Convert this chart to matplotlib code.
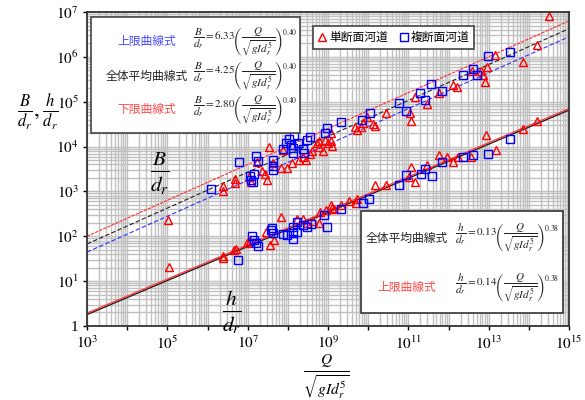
import numpy as np
import matplotlib.pyplot as plt
from matplotlib.lines import Line2D
from matplotlib.patches import Rectangle
from matplotlib.ticker import LogLocator, NullFormatter

plt.rcParams['font.family'] = ['Liberation Serif', 'DejaVu Serif']
plt.rcParams['mathtext.fontset'] = 'stix'
JP = ['Noto Sans CJK JP', 'DejaVu Sans']

# values, stored as log10
# B/dr group, single-section channels (red triangles)
red_b_logq = [5.02, 6.39, 6.39, 6.68, 6.68, 7.03, 7.08, 7.36, 7.48, 7.23, 7.43, 7.63, 7.53,
              7.88, 7.83, 7.98, 8.10, 8.28, 8.38, 8.45, 8.55, 8.60, 8.73, 8.78, 8.78, 8.88,
              8.92, 9.00, 9.07, 9.10, 9.07, 9.67, 9.72, 9.82, 9.97, 9.87, 10.12, 10.17, 10.44,
              11.04, 11.07, 11.17, 11.46, 11.76, 12.11, 12.21, 12.58, 12.81, 12.86, 12.96,
              12.91, 13.16, 13.85, 14.20, 14.50]
red_b_logv = [2.36, 3.12, 3.01, 3.28, 3.19, 3.32, 3.21, 3.46, 3.25, 3.66, 3.39, 3.63, 3.99,
              3.92, 3.52, 3.52, 3.63, 3.70, 3.77, 3.70, 3.83, 3.90, 4.08, 3.99, 4.12, 3.90,
              4.15, 4.08, 4.12, 4.01, 4.30, 4.44, 4.37, 4.44, 4.66, 4.53, 4.50, 4.46, 4.75,
              4.75, 4.57, 5.10, 4.95, 5.19, 5.37, 5.33, 5.68, 5.68, 5.60, 5.77,
              5.44, 6.04, 5.89, 6.26, 6.91]
# B/dr group, compound channels (blue squares)
blue_b_logq = [6.09, 6.78, 7.06, 7.08, 7.16, 7.13, 7.21, 7.26, 7.63, 7.63, 7.63, 7.88, 7.95,
               8.03, 8.08, 8.13, 8.13, 8.15, 8.25, 8.38, 8.40, 8.48, 8.55, 8.92, 8.97, 9.32,
               9.85, 10.04, 10.77, 10.94, 11.29, 11.41, 11.56, 11.84, 12.36, 12.61, 12.71,
               12.98, 13.53]
blue_b_logv = [3.05, 3.66, 3.34, 3.25, 3.39, 3.21, 3.79, 3.68, 3.70, 3.57, 3.48, 3.95, 4.08,
               4.17, 4.03, 3.97, 3.86, 4.24, 4.08, 3.95, 3.86, 4.15, 4.21, 4.30, 4.41, 4.55,
               4.59, 4.75, 4.97, 4.79, 5.19, 5.04, 5.39, 5.24, 5.60, 5.73, 5.60,
               6.02, 6.11]
# h/dr group, single-section channels
red_h_logq = [5.04, 6.39, 6.39, 6.66, 6.71, 6.98, 7.06, 7.46, 7.56, 7.66, 7.83, 8.23, 8.38,
              8.48, 8.63, 8.78, 8.80, 8.95, 9.07, 9.10, 9.15, 9.32, 9.52, 9.70, 9.72, 10.17,
              10.44, 11.02, 11.07, 11.17, 11.46, 11.76, 11.96, 12.11, 12.24, 12.56, 12.93,
              13.18, 13.85, 14.20]
red_h_logv = [1.32, 1.56, 1.52, 1.69, 1.72, 1.85, 1.89, 2.10, 1.81, 1.92, 2.43, 2.39, 2.39,
              2.30, 2.34, 2.30, 2.54, 2.59, 2.70, 2.63, 2.61, 2.70, 2.79, 2.74, 2.83, 3.14,
              3.14, 3.32, 3.54, 3.21, 3.59, 3.81, 3.77, 3.66, 3.77, 3.77, 4.26,
              3.92, 4.39, 4.57]
# h/dr group, compound channels
blue_h_logq = [6.76, 7.11, 7.16, 7.21, 7.26, 7.58, 7.63, 7.61, 7.88, 7.98, 8.13, 8.13, 8.13,
               8.23, 8.23, 8.38, 8.48, 8.58, 8.90, 8.97, 9.32, 9.87, 10.02, 10.77, 10.94,
               11.31, 11.41, 11.59, 11.84, 12.36, 12.61, 12.98, 13.53]
blue_h_logv = [1.47, 2.01, 1.92, 1.85, 1.78, 2.14, 2.07, 2.18, 2.05, 2.03, 1.94, 2.07, 2.21,
               2.10, 2.32, 2.25, 2.21, 2.27, 2.47, 2.21, 2.61, 2.74, 2.83, 3.14, 3.37,
               3.39, 3.50, 3.34, 3.66, 3.77, 3.81, 3.83, 4.17]

# fitted curves: coefficient and exponent
b_coefs = [6.33, 4.25, 2.80]
b_power = 0.40
h_coefs = [0.13, 0.14]
h_power = 0.38
q_range = [1e3, 1e15]

x_tick_labels = ['$10^{3}$', '', '$10^{5}$', '', '$10^{7}$', '', '$10^{9}$', '',
                 '$10^{11}$', '', '$10^{13}$', '', '$10^{15}$']
y_tick_labels = ['1', '$10^{1}$', '$10^{2}$', '$10^{3}$', '$10^{4}$', '$10^{5}$',
                 '$10^{6}$', '$10^{7}$']

W, H = 585, 400
def fp(x, y):
    return x / W, 1 - y / H

fig = plt.figure(figsize=(5.85, 4), dpi=100)
ax = fig.add_axes([87 / W, 74 / H, 482 / W, 314 / H])
ax.set_xscale('log')
ax.set_yscale('log')
ax.set_xlim(1e3, 1e15)
ax.set_ylim(1, 1e7)

ax.set_xticks([10.0 ** k for k in range(3, 16)])
ax.set_xticklabels(x_tick_labels)
ax.set_yticks([10.0 ** k for k in range(0, 8)])
ax.set_yticklabels(y_tick_labels)
ax.xaxis.set_minor_locator(LogLocator(base=10, subs=np.arange(2, 10), numticks=200))
ax.yaxis.set_minor_locator(LogLocator(base=10, subs=np.arange(2, 10), numticks=200))
ax.xaxis.set_minor_formatter(NullFormatter())
ax.yaxis.set_minor_formatter(NullFormatter())
ax.tick_params(which='major', direction='out', length=3, width=1, labelsize=11, pad=3)
ax.tick_params(which='minor', length=0)
ax.grid(which='both', color='#c0c0c0', lw=1.0)
ax.set_axisbelow(True)
for s in ax.spines.values():
    s.set_linewidth(1.3)
    s.set_color('#333333')

qx = np.array(q_range)
ax.plot(qx, b_coefs[0] * qx ** b_power, color='#ff3030', lw=0.8, ls=(0, (3, 1)))
ax.plot(qx, b_coefs[1] * qx ** b_power, color='#202020', lw=0.8, ls=(0, (4, 2)))
ax.plot(qx, b_coefs[2] * qx ** b_power, color='#3030ff', lw=0.8, ls=(0, (4, 2)))
ax.plot(qx, h_coefs[0] * qx ** h_power, color='#202020', lw=1.0)
ax.plot(qx, h_coefs[1] * qx ** h_power, color='#ff4040', lw=1.0)

mk = dict(ls='none', ms=5.5, mew=1.0, mfc='none')
ax.plot(10 ** np.array(red_b_logq), 10 ** np.array(red_b_logv), marker='^', mec='#ff0000', **mk)
ax.plot(10 ** np.array(red_h_logq), 10 ** np.array(red_h_logv), marker='^', mec='#ff0000', **mk)
ax.plot(10 ** np.array(blue_b_logq), 10 ** np.array(blue_b_logv), marker='s', mec='#0000ff', **mk)
ax.plot(10 ** np.array(blue_h_logq), 10 ** np.array(blue_h_logv), marker='s', mec='#0000ff', **mk)

# big fraction labels inside plot
fig.text(*fp(160, 173), r'$\frac{B}{d_r}$', fontsize=22, ha='center', va='center')
fig.text(*fp(232, 312), r'$\frac{h}{d_r}$', fontsize=22, ha='center', va='center')

# axis labels
fig.text(*fp(38, 112), r'$\frac{B}{d_r},\frac{h}{d_r}$', fontsize=17, ha='center', va='center')
fig.text(*fp(326, 377), r'$\frac{Q}{\sqrt{gId_r^5}}$', fontsize=16, ha='center', va='center')

# upper-left formula box
x0, y0 = fp(91, 133)
fig.add_artist(Rectangle((x0, y0), 209 / W, 116 / H, transform=fig.transFigure,
                         facecolor='white', edgecolor='#444444', lw=1.2, zorder=2))
b_names = ['上限曲線式', '全体平均曲線式', '下限曲線式']
b_colors = ['#4a4aff', '#222222', '#ff4a4a']
for i, (name, col, c) in enumerate(zip(b_names, b_colors, b_coefs)):
    yy = 42 + 34 * i
    fig.text(*fp(147, yy), name, family=JP, fontsize=8.5, color=col, ha='center', va='center', zorder=3)
    fig.text(*fp(193, yy), r'$\dfrac{B}{d_r}=%.2f\left(\dfrac{Q}{\sqrt{gId_r^5}}\right)^{0.40}$' % c,
             fontsize=8, ha='left', va='center', color='#222222', zorder=3)

# lower-right formula box
x0, y0 = fp(361, 313)
fig.add_artist(Rectangle((x0, y0), 202 / W, 102 / H, transform=fig.transFigure,
                         facecolor='white', edgecolor='#333333', lw=1.2, zorder=2))
h_names = ['全体平均曲線式', '上限曲線式']
h_colors = ['#222222', '#ff4a4a']
h_rows = [238, 288]
for name, col, c, yy in zip(h_names, h_colors, h_coefs, h_rows):
    fig.text(*fp(407, yy), name, family=JP, fontsize=8.5, color=col, ha='center', va='center', zorder=3)
    fig.text(*fp(455, yy), r'$\dfrac{h}{d_r}=%.2f\left(\dfrac{Q}{\sqrt{gId_r^5}}\right)^{0.38}$' % c,
             fontsize=8, ha='left', va='center', color='#222222', zorder=3)

# marker legend
x0, y0 = fp(313, 49)
fig.add_artist(Rectangle((x0, y0), 161 / W, 23 / H, transform=fig.transFigure,
                         facecolor='white', edgecolor='#444444', lw=1.2, zorder=2))
fig.add_artist(Line2D([fp(322, 37)[0]], [fp(322, 37)[1]], marker='^', mec='#ff0000',
                      transform=fig.transFigure, zorder=3, **mk))
fig.text(*fp(329, 37), '単断面河道', family=JP, fontsize=8.5, ha='left', va='center', zorder=3)
fig.add_artist(Line2D([fp(404, 37)[0]], [fp(404, 37)[1]], marker='s', mec='#0000ff',
                      transform=fig.transFigure, zorder=3, **mk))
fig.text(*fp(411, 37), '複断面河道', family=JP, fontsize=8.5, ha='left', va='center', zorder=3)

fig.savefig('out.png', dpi=100)
